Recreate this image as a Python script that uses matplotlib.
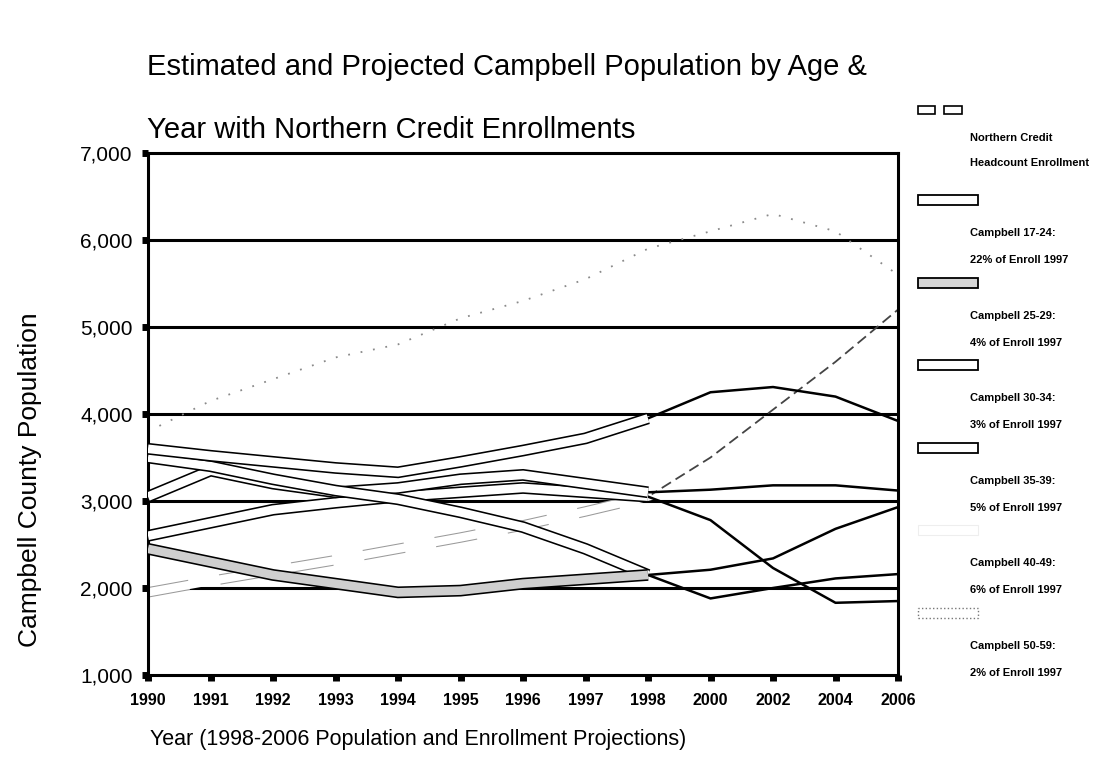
import numpy as np
import matplotlib
matplotlib.use("Agg")
import matplotlib.pyplot as plt
from matplotlib.patches import Rectangle

plt.rcParams['font.family'] = ['Liberation Sans', 'DejaVu Sans']

# years on the x axis (categories, 1998-2006 are projections)
years = ['1990', '1991', '1992', '1993', '1994', '1995', '1996', '1997', '1998',
         '2000', '2002', '2004', '2006']

# values
enroll   = [3050, 3350, 3200, 3100, 3150, 3250, 3300, 3200, 3100, 3130, 3180, 3180, 3120]
age17_24 = [3600, 3520, 3450, 3380, 3330, 3450, 3580, 3720, 3950, 4250, 4310, 4200, 3920]
age25_29 = [2450, 2300, 2150, 2050, 1950, 1970, 2050, 2100, 2150, 1880, 2000, 2110, 2160]
age30_34 = [3500, 3400, 3250, 3120, 3020, 2870, 2700, 2450, 2150, 2210, 2340, 2680, 2930]
age35_39 = [2600, 2750, 2900, 2980, 3050, 3100, 3150, 3100, 3050, 2780, 2230, 1830, 1850]
age40_49 = [1950, 2080, 2200, 2320, 2450, 2580, 2720, 2880, 3050, 3500, 4050, 4600, 5200]
age50_59 = [3800, 4150, 4400, 4650, 4800, 5100, 5300, 5550, 5900, 6100, 6300, 6100, 5600]

legend_names = ["Northern Credit\nHeadcount Enrollment",
                "Campbell 17-24:\n22% of Enroll 1997",
                "Campbell 25-29:\n4% of Enroll 1997",
                "Campbell 30-34:\n3% of Enroll 1997",
                "Campbell 35-39:\n5% of Enroll 1997",
                "Campbell 40-49:\n6% of Enroll 1997",
                "Campbell 50-59:\n2% of Enroll 1997"]

W, H = 1098, 781
fig = plt.figure(figsize=(W / 100, H / 100), dpi=100)
ax = fig.add_axes([148 / W, 1 - 675 / H, 750 / W, 522 / H])

x = np.arange(len(years))
h = 8  # index of 1998, where the projections start

# grid lines
for v in [2000, 3000, 4000, 5000, 6000]:
    ax.axhline(v, color='black', lw=2.2, zorder=1)

# faint dotted and dashed series
ax.plot(x, age50_59, color='#8a8a8a', lw=1.3, ls=(0, (1, 6)), zorder=2)
ax.plot(x[:h + 1], age40_49[:h + 1], color='#9a9a9a', lw=7.5, ls=(0, (4, 3)), zorder=2)
ax.plot(x[:h + 1], age40_49[:h + 1], color='white', lw=6, zorder=2.1)
ax.plot(x[h:], age40_49[h:], color='#444444', lw=1.3, ls=(0, (6, 3)), zorder=2)

# thin projection lines 1998-2006
for s in [enroll, age17_24, age25_29, age30_34, age35_39]:
    ax.plot(x[h:], s[h:], color='black', lw=1.8, zorder=3)

# hollow bands 1990-1998
z = 4
for s, fill in [(age35_39, 'white'), (enroll, 'white'), (age30_34, 'white'),
                (age17_24, 'white'), (age25_29, '#cfcfcf')]:
    ax.plot(x[:h + 1], s[:h + 1], color='black', lw=8.5, zorder=z,
            solid_capstyle='butt', solid_joinstyle='miter')
    ax.plot(x[:h + 1], s[:h + 1], color=fill, lw=6.2, zorder=z + 0.1,
            solid_capstyle='butt', solid_joinstyle='miter')
    z += 0.2

ax.set_xlim(0, 12)
ax.set_ylim(1000, 7000)
ax.set_xticks(x)
ax.set_xticklabels(years, fontsize=11.5, fontweight='bold')
ax.set_yticks(range(1000, 8000, 1000))
ax.set_yticklabels([f"{v:,}" for v in range(1000, 8000, 1000)], fontsize=15)
ax.tick_params(axis='x', direction='out', length=4, width=5, pad=9)
ax.tick_params(axis='y', direction='out', length=4, width=5, pad=7)
for sp in ax.spines.values():
    sp.set_linewidth(2.2)

# titles
fig.text(147 / W, 1 - 67 / H, "Estimated and Projected Campbell Population by Age &",
         fontsize=21, va='center', ha='left')
fig.text(147 / W, 1 - 130 / H, "Year with Northern Credit Enrollments",
         fontsize=21, va='center', ha='left')
fig.text(150 / W, 1 - 739 / H, "Year (1998-2006 Population and Enrollment Projections)",
         fontsize=15.5, va='center', ha='left')
fig.text(30 / W, 1 - 480 / H, "Campbell County Population", fontsize=19,
         rotation=90, va='center', ha='center')

# legend on the right, swatch above each two-line label
def px_rect(x0, y0, w, hh, **kw):
    fig.add_artist(Rectangle((x0 / W, 1 - (y0 + hh) / H), w / W, hh / H,
                             transform=fig.transFigure, **kw))

px_rect(918, 106, 17, 8, facecolor='white', edgecolor='black', lw=1.2)
px_rect(944, 106, 18, 8, facecolor='white', edgecolor='black', lw=1.2)
swatches = [dict(facecolor='white', edgecolor='black', lw=1.3),
            dict(facecolor='#d6d6d6', edgecolor='black', lw=1.3),
            dict(facecolor='white', edgecolor='black', lw=1.3),
            dict(facecolor='white', edgecolor='black', lw=1.3),
            dict(facecolor='white', edgecolor='#eeeeee', lw=0.8),
            dict(facecolor='white', edgecolor='#777777', lw=1, ls=':')]
for i, name in enumerate(legend_names):
    l1, l2 = name.split("\n")
    if i == 0:
        t1, t2 = 138, 163
    else:
        sy = 200 + 82.6 * (i - 1)
        px_rect(918, sy - 5, 60, 10, **swatches[i - 1])
        t1, t2 = sy + 33, sy + 60
    fig.text(970 / W, 1 - t1 / H, l1, fontsize=8, fontweight='bold', va='center')
    fig.text(970 / W, 1 - t2 / H, l2, fontsize=8, fontweight='bold', va='center')

fig.savefig("out.png", dpi=100)
